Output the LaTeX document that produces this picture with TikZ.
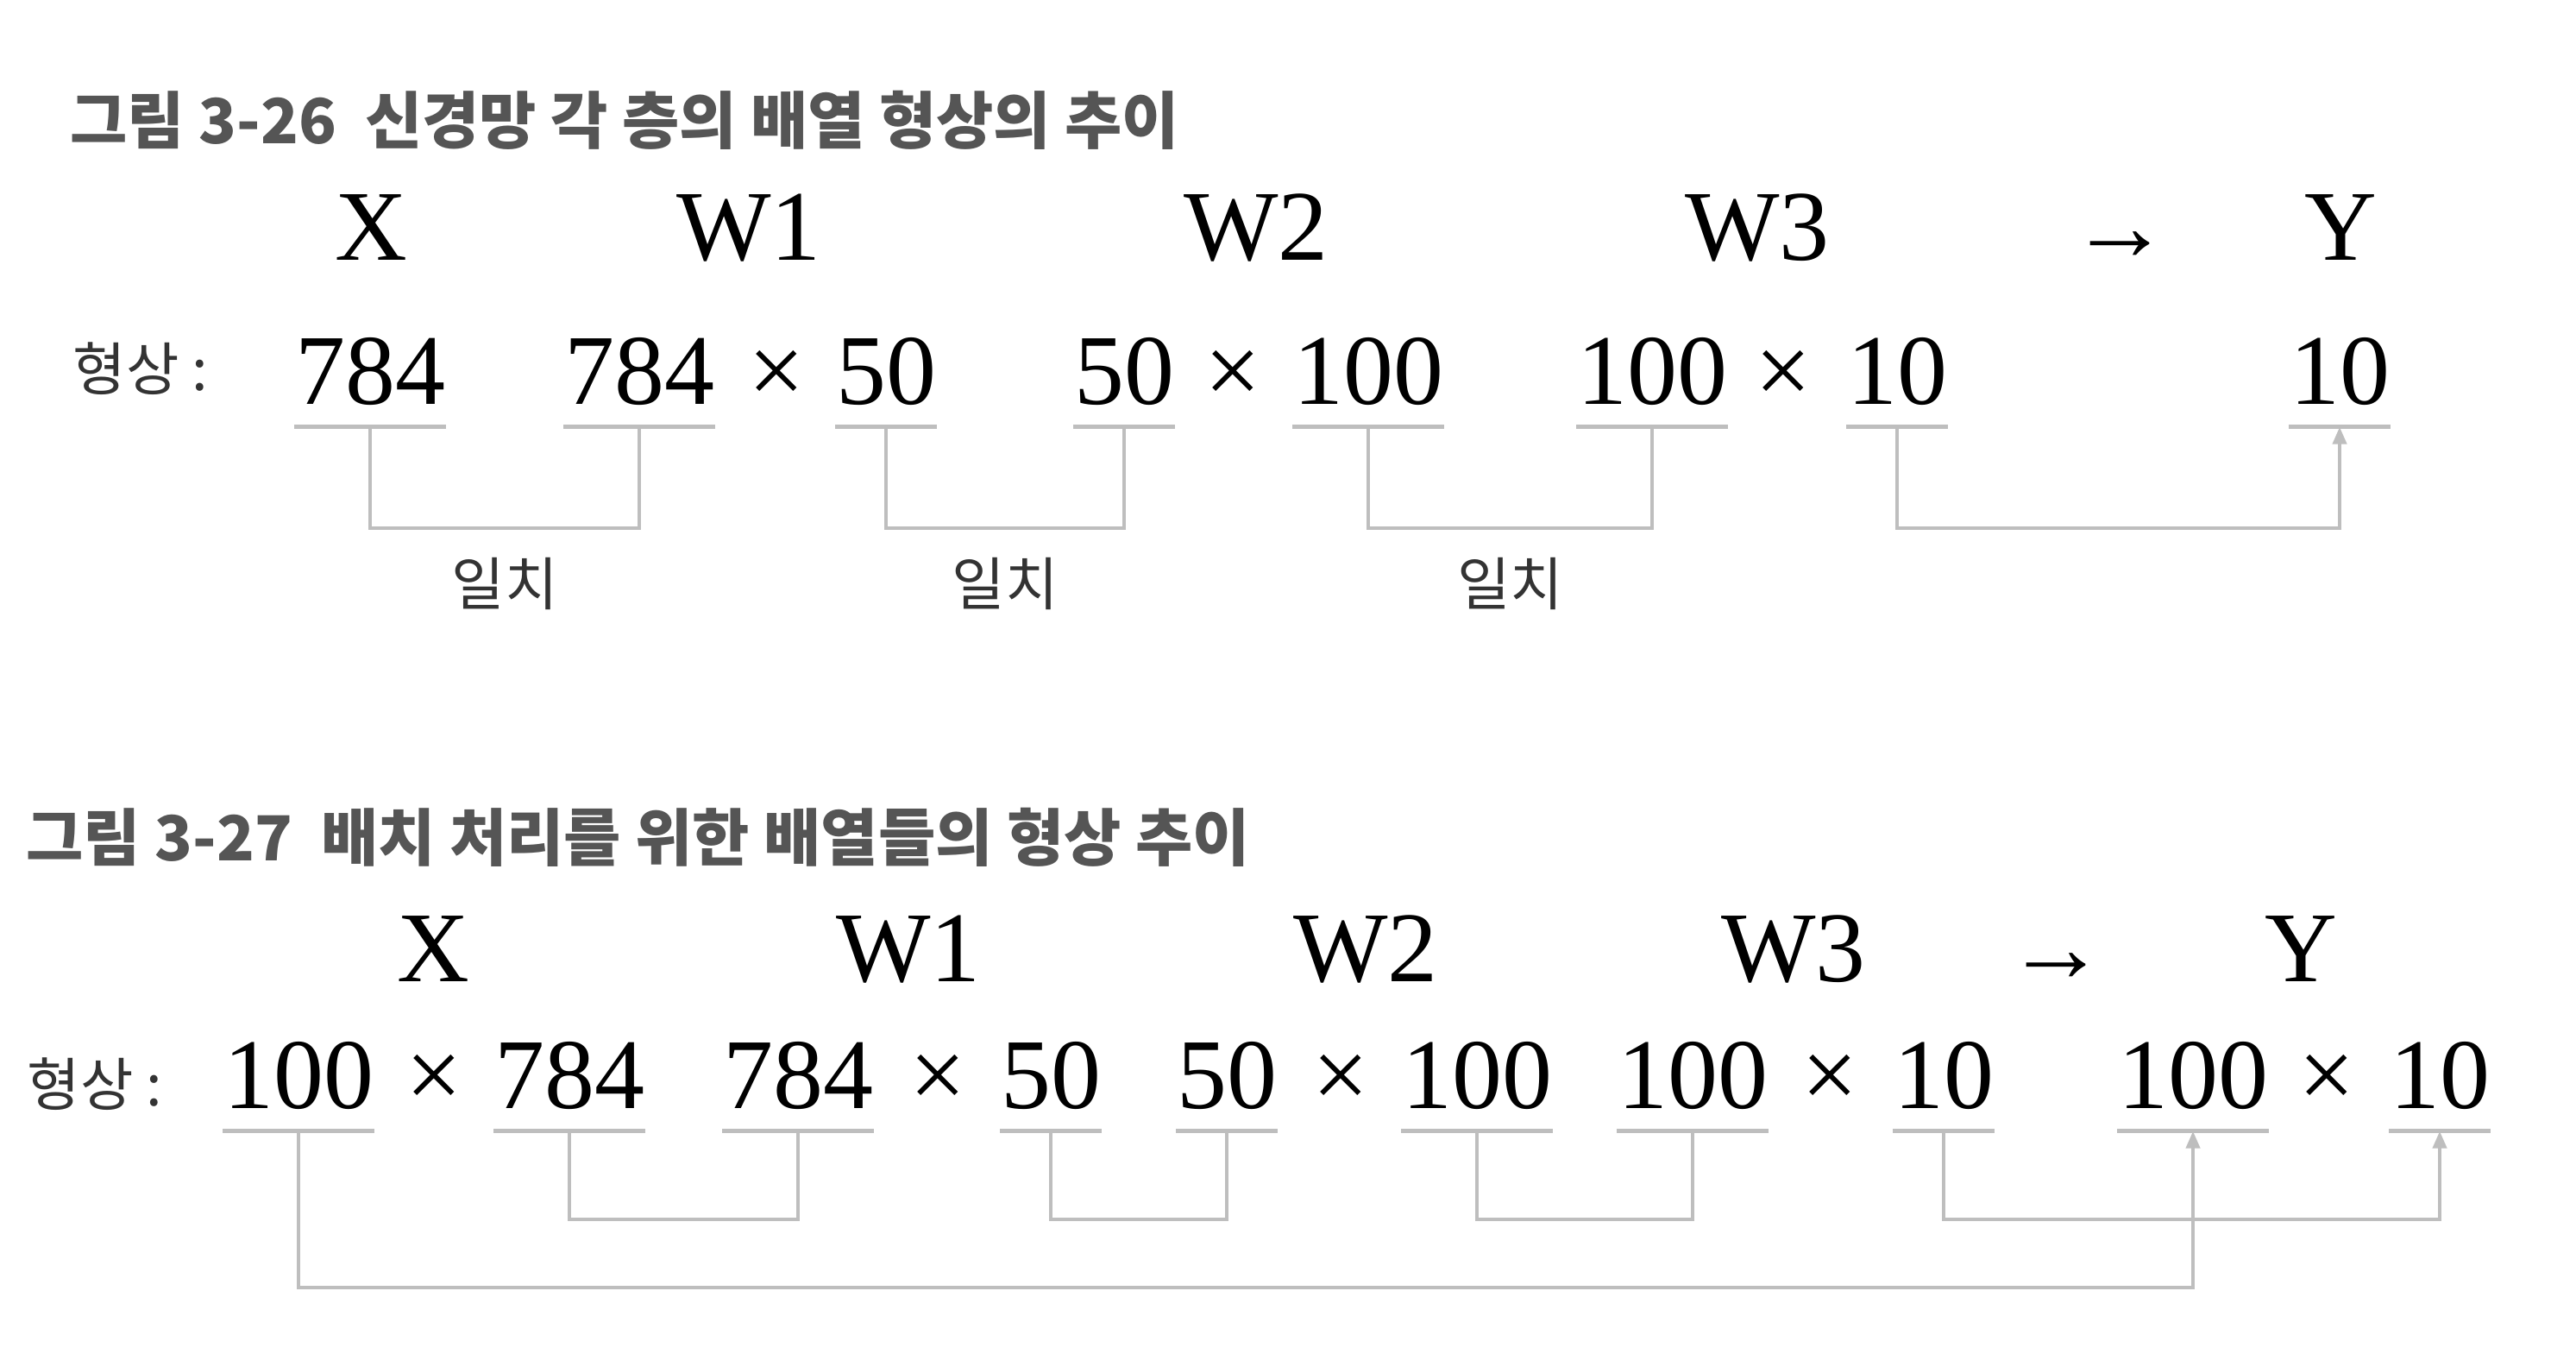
\documentclass[tikz,border=0pt]{standalone}
\usepackage{fontspec}
\setmainfont{Liberation Serif}
\newfontfamily\krfont{Noto Sans CJK KR}
\usetikzlibrary{arrows.meta}

\definecolor{linegray}{HTML}{BEBEBE}
\definecolor{titlegray}{HTML}{555555}
\definecolor{labelgray}{HTML}{333333}

\newcommand{\bigfont}{\fontsize{33}{36}\selectfont}

\begin{document}
\begin{tikzpicture}[
    tok/.style={font=\bigfont, inner xsep=0pt, inner ysep=0.26cm, text height=0.8cm, text depth=0pt, anchor=base},
    num/.style={tok, append after command={(\tikzlastnode.south west) edge[uline] (\tikzlastnode.south east)}},
    head/.style={font=\bigfont, inner sep=0pt, anchor=base},
    figtitle/.style={font=\krfont\bfseries\fontsize{20.5}{24}\selectfont, text=titlegray, inner sep=0pt, anchor=base west},
    shapelbl/.style={font=\krfont\fontsize{19}{22}\selectfont, text=labelgray, inner sep=0pt, anchor=base west},
    matchlbl/.style={font=\krfont\fontsize{19}{22}\selectfont, text=labelgray, inner sep=0pt, yshift=-0.65cm},
    uline/.style={draw=linegray, line width=1.4pt},
    link/.style={draw=linegray, line width=1.2pt},
    arrow/.style={link, -{Triangle[length=0.2cm, width=0.16cm]}}
]
\useasboundingbox[fill=white] (0,0) rectangle (29.86,-15.68);

% figure 3-26
\node (t1) [figtitle] at (0.81,-1.67) {그림 3-26\ \ 신경망 각 층의 배열 형상의 추이};

\node (hx) [head] at (4.30,-3.02) {X};
\node (hw1) [head] at (8.68,-3.02) {W1};
\node (hw2) [head] at (14.56,-3.02) {W2};
\node (hw3) [head] at (20.37,-3.02) {W3};
\node (hto) [head] at (24.57,-3.02) {→};
\node (hy) [head] at (27.13,-3.02) {Y};

\node (s1) [shapelbl] at (0.84,-4.52) {형상 :};
\node (xa) [num] at (4.29,-4.68) {784};
\node (w1a) [num] at (7.41,-4.68) {784};
\node (w1m) [tok] at (9.00,-4.68) {×};
\node (w1b) [num] at (10.27,-4.68) {50};
\node (w2a) [num] at (13.03,-4.68) {50};
\node (w2m) [tok] at (14.29,-4.68) {×};
\node (w2b) [num] at (15.86,-4.68) {100};
\node (w3a) [num] at (19.15,-4.68) {100};
\node (w3m) [tok] at (20.67,-4.68) {×};
\node (w3b) [num] at (21.99,-4.68) {10};
\node (ya) [num] at (27.12,-4.68) {10};

\draw [link] (xa.south) -- ++(0,-1.17) -| node[matchlbl, pos=0.25] {일치} (w1a.south);
\draw [link] (w1b.south) -- ++(0,-1.17) -| node[matchlbl, pos=0.25] {일치} (w2a.south);
\draw [link] (w2b.south) -- ++(0,-1.17) -| node[matchlbl, pos=0.25] {일치} (w3a.south);
\draw [arrow] (w3b.south) -- ++(0,-1.17) -| (ya.south);

% figure 3-27
\node (t2) [figtitle] at (0.30,-9.97) {그림 3-27\ \ 배치 처리를 위한 배열들의 형상 추이};

\node (hbx) [head] at (5.02,-11.37) {X};
\node (hbw1) [head] at (10.53,-11.37) {W1};
\node (hbw2) [head] at (15.83,-11.37) {W2};
\node (hbw3) [head] at (20.79,-11.37) {W3};
\node (hbto) [head] at (23.83,-11.37) {→};
\node (hby) [head] at (26.67,-11.37) {Y};

\node (s2) [shapelbl] at (0.31,-12.81) {형상 :};
\node (bxa) [num] at (3.46,-12.84) {100};
\node (bxm) [tok] at (5.03,-12.84) {×};
\node (bxb) [num] at (6.60,-12.84) {784};
\node (bw1a) [num] at (9.25,-12.84) {784};
\node (bw1m) [tok] at (10.87,-12.84) {×};
\node (bw1b) [num] at (12.18,-12.84) {50};
\node (bw2a) [num] at (14.22,-12.84) {50};
\node (bw2m) [tok] at (15.54,-12.84) {×};
\node (bw2b) [num] at (17.12,-12.84) {100};
\node (bw3a) [num] at (19.62,-12.84) {100};
\node (bw3m) [tok] at (21.21,-12.84) {×};
\node (bw3b) [num] at (22.53,-12.84) {10};
\node (bya) [num] at (25.42,-12.84) {100};
\node (bym) [tok] at (26.97,-12.84) {×};
\node (byb) [num] at (28.28,-12.84) {10};

\draw [link] (bxb.south) -- ++(0,-1.02) -| (bw1a.south);
\draw [link] (bw1b.south) -- ++(0,-1.02) -| (bw2a.south);
\draw [link] (bw2b.south) -- ++(0,-1.02) -| (bw3a.south);
\draw [arrow] (bw3b.south) -- ++(0,-1.02) -| (byb.south);
\draw [arrow] (bxa.south) -- ++(0,-1.81) -| (bya.south);

\end{tikzpicture}
\end{document}
